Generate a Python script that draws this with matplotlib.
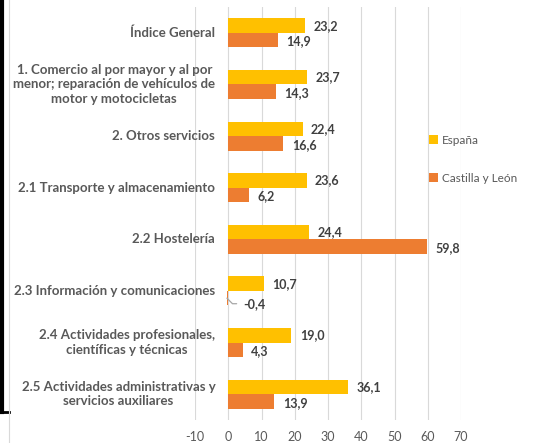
import numpy as np
import matplotlib.pyplot as plt
from matplotlib.lines import Line2D
import matplotlib.transforms as mtransforms

plt.rcParams['font.family'] = ['Lato', 'DejaVu Sans']
plt.rcParams['axes.unicode_minus'] = False

categories = ['Índice General',
              '1. Comercio al por mayor y al por\nmenor; reparación de vehículos de\nmotor y motocicletas',
              '2. Otros servicios',
              '2.1 Transporte y almacenamiento',
              '2.2 Hostelería',
              '2.3 Información y comunicaciones',
              '2.4 Actividades profesionales,\ncientíficas y técnicas',
              '2.5 Actividades administrativas y\nservicios auxiliares']
espana = [23.2, 23.7, 22.4, 23.6, 24.4, 10.7, 19.0, 36.1]
cyl = [14.9, 14.3, 16.6, 6.2, 59.8, -0.4, 4.3, 13.9]
xticks = [-10, 0, 10, 20, 30, 40, 50, 60, 70]

c_es = '#FFC000'
c_cyl = '#ED7D31'
gray = '#595959'

fig = plt.figure(figsize=(5.59, 4.43), dpi=100)
ax = fig.add_axes([195/559, 1-420/443, (461-195)/559, (420-7)/443])

y = np.arange(len(categories))
h = 0.28
ax.barh(y - h/2, espana, height=h, color=c_es, label='España', zorder=3)
ax.barh(y + h/2, cyl, height=h, color=c_cyl, label='Castilla y León', zorder=3)

fmt = lambda v: ('%.1f' % v).replace('.', ',')
for i, v in enumerate(espana):
    ax.annotate(fmt(v), (v, i - h/2), xytext=(6, 0), textcoords='offset points',
                va='center', ha='left', fontsize=9, fontweight='bold', color='#404040')
for i, v in enumerate(cyl):
    if v < 0:
        # small negative value: label moved aside with a leader line
        ax.annotate(fmt(v), (v, i + h/2), xytext=(12, -4), textcoords='offset points',
                    va='center', ha='left', fontsize=9, fontweight='bold', color='#404040',
                    arrowprops=dict(arrowstyle='-', color='#A6A6A6', lw=0.9,
                                    relpos=(0, 0.5), shrinkA=3, shrinkB=0,
                                    connectionstyle='angle,angleA=0,angleB=-45,rad=0'))
    else:
        ax.annotate(fmt(v), (v, i + h/2), xytext=(6, -1), textcoords='offset points',
                    va='center', ha='left', fontsize=9, fontweight='bold', color='#404040')

ax.set_xlim(-10, 70)
ax.set_xticks(xticks)
ax.set_ylim(len(categories) - 0.5, -0.5)
ax.set_yticks([])
ax.tick_params(axis='x', colors=gray, labelsize=9, length=0, pad=8)

# category labels, right edge a little left of the zero line
trans = mtransforms.offset_copy(ax.transData, fig=fig, x=-13, y=0, units='dots')
for i, cat in enumerate(categories):
    ax.text(0, i, cat, transform=trans, ha='right', va='center', multialignment='center',
            fontsize=9.5, fontweight='bold', color=gray, linespacing=1.25)

ax.grid(axis='x', color='#D9D9D9', lw=0.8, zorder=0)
for s in ax.spines.values():
    s.set_visible(False)

fig.legend(loc='upper left', bbox_to_anchor=(418/559, 1-124/443), frameon=False,
           fontsize=8.5, labelcolor=gray, handlelength=0.8, handleheight=0.8,
           handletextpad=0.3, labelspacing=2.3)

# frame decorations
fig.add_artist(Line2D([2/559, 2/559], [1, 1-412/443], color='black', lw=3))
fig.add_artist(Line2D([0, 9/559], [1-412/443, 1-412/443], color='black', lw=2))
fig.add_artist(Line2D([8.5/559, 8.5/559], [0, 1], color='#D9D9D9', lw=0.8))

fig.savefig('out.png', dpi=100)
